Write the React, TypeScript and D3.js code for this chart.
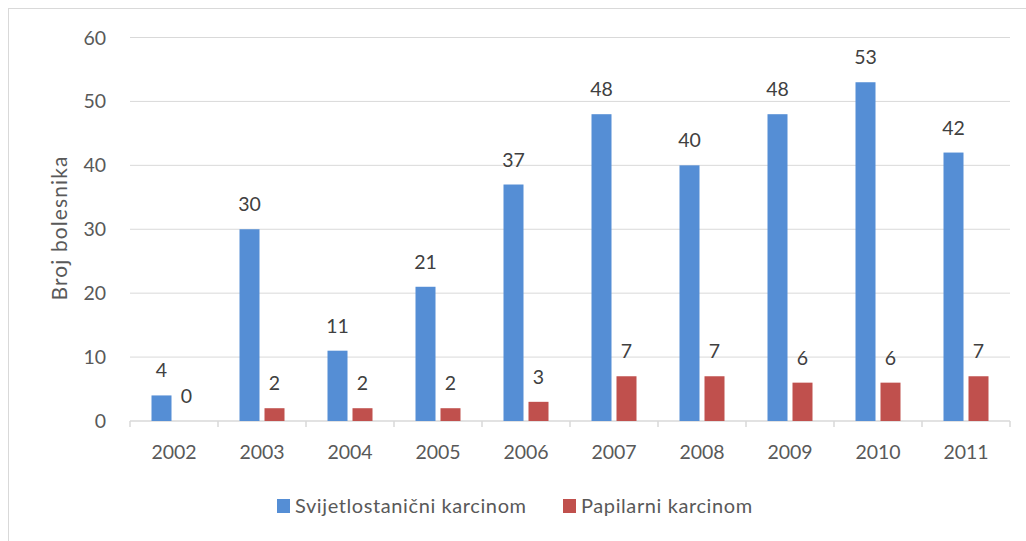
import React from "react";
import * as d3 from "d3";

const years = ["2002", "2003", "2004", "2005", "2006", "2007", "2008", "2009", "2010", "2011"];
const svijetlo = [4, 30, 11, 21, 37, 48, 40, 48, 53, 42];
const papilarni = [0, 2, 2, 2, 3, 7, 7, 6, 6, 7];
const yTicks = [0, 10, 20, 30, 40, 50, 60];
const seriesNames = ["Svijetlostanični karcinom", "Papilarni karcinom"];
const colors = ["#558ED5", "#C0504D"];

const W = 1026;
const H = 541;
const left = 130;
const right = 1010;
const top = 37.5;
const bottom = 421;
const font = "Lato, 'Open Sans', sans-serif";
const textColor = "#595959";
const fs = 19.5;

export default function App() {
  const x = d3.scaleBand<string>().domain(years).range([left, right]);
  const y = d3.scaleLinear().domain([0, 60]).range([bottom, top]);
  const barW = 20;
  const gap = 5;
  const series = [svijetlo, papilarni];

  return (
    <svg width={W} height={H} style={{ position: "absolute", left: 0, top: 0 }}>
      <rect x={0} y={0} width={W} height={H} fill="#fff" />
      <rect x={8.5} y={8.5} width={1030} height={560} fill="none" stroke="#D9D9D9" strokeWidth={1} />
      {yTicks.map((t) => (
        <g key={t}>
          {t > 0 && (
            <line x1={left} x2={right} y1={y(t)} y2={y(t)} stroke="#D9D9D9" strokeWidth={1} />
          )}
          <text
            x={106}
            y={y(t) + 7}
            textAnchor="end"
            fontFamily={font}
            fontSize={fs}
            fill={textColor}
          >
            {t}
          </text>
        </g>
      ))}
      <line x1={left} x2={right} y1={bottom} y2={bottom} stroke="#D9D9D9" strokeWidth={1.5} />
      {years.map((yr) => (
        <line
          key={"tk" + yr}
          x1={x(yr)!}
          x2={x(yr)!}
          y1={bottom}
          y2={bottom + 6}
          stroke="#D9D9D9"
          strokeWidth={1.5}
        />
      ))}
      <line x1={right} x2={right} y1={bottom} y2={bottom + 6} stroke="#D9D9D9" strokeWidth={1.5} />
      {years.map((yr, i) => {
        const c = x(yr)! + x.bandwidth() / 2;
        return (
          <g key={yr}>
            {series.map((s, j) => {
              const bx = j === 0 ? c - gap / 2 - barW : c + gap / 2;
              const v = s[i];
              return (
                <g key={j}>
                  <rect
                    x={bx}
                    y={y(v)}
                    width={barW}
                    height={bottom - y(v)}
                    fill={colors[j]}
                  />
                  <text
                    x={bx + barW / 2}
                    y={y(v) - 18}
                    textAnchor="middle"
                    fontFamily={font}
                    fontSize={fs}
                    fill="#404040"
                  >
                    {v}
                  </text>
                </g>
              );
            })}
            <text
              x={c}
              y={bottom + 38}
              textAnchor="middle"
              fontFamily={font}
              fontSize={fs}
              fill={textColor}
            >
              {yr}
            </text>
          </g>
        );
      })}
      <text
        transform={`translate(67, 228) rotate(-90)`}
        textAnchor="middle"
        fontFamily={font}
        fontSize={21}
        letterSpacing={1.1}
        fill={textColor}
      >
        Broj bolesnika
      </text>
      {seriesNames.map((n, j) => {
        const lx = j === 0 ? 277 : 563;
        return (
          <g key={n}>
            <rect x={lx} y={499} width={13} height={14} fill={colors[j]} />
            <text
              x={lx + 18}
              y={513}
              fontFamily={font}
              fontSize={20}
              letterSpacing={0.6}
              fill={textColor}
            >
              {n}
            </text>
          </g>
        );
      })}
    </svg>
  );
}
